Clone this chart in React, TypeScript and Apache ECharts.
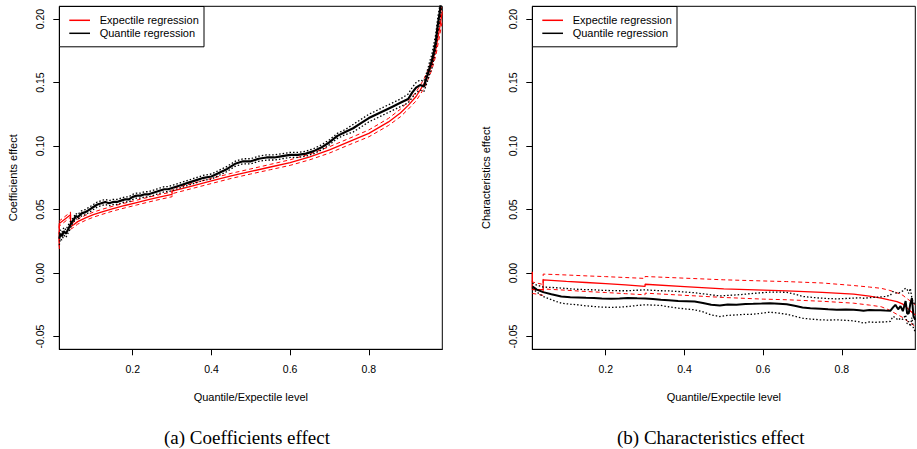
import React, { useEffect, useRef } from "react";
import * as echarts from "echarts";

// ---------- axis ticks ----------
const xTicks = [0.2, 0.4, 0.6, 0.8];
const yTicks = [-0.05, 0, 0.05, 0.1, 0.15, 0.2];
const xTitle = "Quantile/Expectile level";
const yTitleA = "Coefficients effect";
const yTitleB = "Characteristics effect";
const captionA = "(a) Coefficients effect";
const captionB = "(b) Characteristics effect";
const legendNames = ["Expectile regression", "Quantile regression"];

// ---------- panel (a): coefficients effect ----------
const qLevelsA = [
  0.0134, 0.016, 0.02, 0.025, 0.03, 0.035, 0.04, 0.045, 0.05, 0.055,
  0.06, 0.07, 0.08, 0.09, 0.1, 0.11, 0.12, 0.13, 0.14, 0.15,
  0.16, 0.17, 0.18, 0.19, 0.2, 0.21, 0.22, 0.23, 0.24, 0.25,
  0.26, 0.27, 0.28, 0.29, 0.3, 0.32, 0.34, 0.36, 0.38, 0.4,
  0.42, 0.44, 0.46, 0.48, 0.5, 0.52, 0.54, 0.56, 0.58, 0.6,
  0.62, 0.64, 0.66, 0.68, 0.7, 0.72, 0.74, 0.76, 0.78, 0.8,
  0.82, 0.84, 0.86, 0.88, 0.9, 0.91, 0.92, 0.93, 0.94, 0.95,
  0.955, 0.96, 0.965, 0.97, 0.975, 0.98, 0.985,
];
const quantileA = [
  0.027, 0.031, 0.029, 0.033, 0.031, 0.034, 0.037, 0.04, 0.042, 0.045,
  0.044, 0.047, 0.048, 0.05, 0.052, 0.054, 0.055, 0.056, 0.055, 0.056,
  0.056, 0.057, 0.058, 0.058, 0.06, 0.061, 0.061, 0.062, 0.062, 0.063,
  0.064, 0.065, 0.066, 0.066, 0.067, 0.069, 0.071, 0.073, 0.075, 0.076,
  0.079, 0.082, 0.086, 0.088, 0.088, 0.09, 0.091, 0.091, 0.092, 0.093,
  0.093, 0.094, 0.096, 0.099, 0.103, 0.108, 0.111, 0.114, 0.118, 0.122,
  0.125, 0.128, 0.131, 0.134, 0.137, 0.142, 0.146, 0.148, 0.147, 0.157,
  0.162, 0.167, 0.174, 0.182, 0.195, 0.205, 0.218,
];
const quantileUpA = [
  0.031, 0.034, 0.032, 0.036, 0.034, 0.037, 0.04, 0.042, 0.044, 0.047,
  0.046, 0.049, 0.05, 0.052, 0.054, 0.056, 0.057, 0.058, 0.057, 0.058,
  0.058, 0.059, 0.06, 0.06, 0.062, 0.063, 0.063, 0.064, 0.064, 0.065,
  0.066, 0.067, 0.068, 0.068, 0.069, 0.071, 0.073, 0.075, 0.077, 0.078,
  0.081, 0.084, 0.088, 0.09, 0.09, 0.092, 0.093, 0.093, 0.094, 0.095,
  0.095, 0.096, 0.098, 0.101, 0.105, 0.11, 0.113, 0.117, 0.121, 0.125,
  0.128, 0.131, 0.134, 0.137, 0.141, 0.146, 0.15, 0.152, 0.151, 0.161,
  0.167, 0.172, 0.18, 0.188, 0.201, 0.21, 0.222,
];
const quantileLoA = [
  0.022, 0.027, 0.026, 0.03, 0.028, 0.031, 0.034, 0.038, 0.04, 0.043,
  0.042, 0.045, 0.046, 0.048, 0.05, 0.052, 0.053, 0.054, 0.053, 0.054,
  0.054, 0.055, 0.056, 0.056, 0.058, 0.059, 0.059, 0.06, 0.06, 0.061,
  0.062, 0.063, 0.064, 0.064, 0.065, 0.067, 0.069, 0.071, 0.073, 0.074,
  0.077, 0.08, 0.084, 0.086, 0.086, 0.088, 0.089, 0.089, 0.09, 0.091,
  0.091, 0.092, 0.094, 0.097, 0.101, 0.106, 0.109, 0.111, 0.115, 0.119,
  0.122, 0.125, 0.128, 0.131, 0.134, 0.138, 0.142, 0.144, 0.143, 0.152,
  0.157, 0.161, 0.168, 0.176, 0.189, 0.198, 0.21,
];
const eLevelsA = [
  0.0134, 0.0134, 0.042, 0.042, 0.05, 0.06, 0.08, 0.1, 0.12, 0.15,
  0.18, 0.21, 0.24, 0.27, 0.3, 0.3, 0.35, 0.4, 0.45, 0.5,
  0.55, 0.6, 0.65, 0.7, 0.75, 0.8, 0.85, 0.88, 0.9, 0.92,
  0.94, 0.95, 0.96, 0.97, 0.98, 0.9866,
];
const expectileA = [
  0.021, 0.039, 0.046, 0.0365, 0.038, 0.0405, 0.0435, 0.046, 0.048, 0.0508,
  0.0532, 0.0555, 0.0578, 0.06, 0.062, 0.0645, 0.0685, 0.0725, 0.0765, 0.08,
  0.0835, 0.087, 0.0915, 0.097, 0.1035, 0.11, 0.119, 0.126, 0.132, 0.139,
  0.149, 0.156, 0.164, 0.176, 0.193, 0.206,
];
const expectileUpA = [
  0.024, 0.041, 0.048, 0.0385, 0.04, 0.0425, 0.0455, 0.048, 0.05, 0.0527,
  0.0551, 0.0574, 0.0597, 0.0619, 0.0639, 0.0665, 0.0705, 0.0745, 0.0785, 0.082,
  0.0856, 0.0892, 0.0938, 0.0995, 0.106, 0.1127, 0.1218, 0.129, 0.135, 0.1425,
  0.1527, 0.1598, 0.168, 0.181, 0.199, 0.213,
];
const expectileLoA = [
  0.019, 0.037, 0.044, 0.0345, 0.036, 0.0385, 0.0415, 0.044, 0.046, 0.0489,
  0.0513, 0.0536, 0.0559, 0.0581, 0.0601, 0.0625, 0.0665, 0.0705, 0.0745, 0.078,
  0.0814, 0.0848, 0.0892, 0.0945, 0.101, 0.1073, 0.1162, 0.123, 0.129, 0.1355,
  0.1453, 0.1522, 0.16, 0.171, 0.187, 0.199,
];

// ---------- panel (b): characteristics effect ----------
const qLevelsB = [
  0.0134, 0.025, 0.041, 0.062, 0.087, 0.11, 0.13, 0.15, 0.17, 0.19,
  0.214, 0.235, 0.256, 0.28, 0.3, 0.32, 0.34, 0.36, 0.384, 0.405,
  0.426, 0.447, 0.468, 0.49, 0.51, 0.532, 0.555, 0.575, 0.596, 0.617,
  0.64, 0.66, 0.68, 0.7, 0.72, 0.745, 0.765, 0.787, 0.81, 0.83,
  0.845, 0.855, 0.87, 0.885, 0.898, 0.91, 0.923, 0.93, 0.936, 0.943,
  0.949, 0.955, 0.962, 0.966, 0.97, 0.974, 0.978, 0.982, 0.9866,
];
const quantileB = [
  -0.0105, -0.013, -0.015, -0.0166, -0.0184, -0.019, -0.0192, -0.0195, -0.0197, -0.02,
  -0.0203, -0.0201, -0.0197, -0.0199, -0.02, -0.0205, -0.021, -0.0214, -0.0219, -0.0221,
  -0.0224, -0.0235, -0.025, -0.0255, -0.0247, -0.025, -0.0243, -0.0242, -0.024, -0.0237,
  -0.0241, -0.0245, -0.0258, -0.0271, -0.0276, -0.0281, -0.0285, -0.0289, -0.0286, -0.0288,
  -0.0292, -0.0297, -0.029, -0.0293, -0.0292, -0.0295, -0.0297, -0.027, -0.025, -0.0285,
  -0.026, -0.03, -0.022, -0.032, -0.0316, -0.024, -0.0197, -0.034, -0.0368,
];
const quantileUpB = [
  -0.0079, -0.0095, -0.011, -0.0113, -0.0118, -0.0124, -0.0128, -0.013, -0.0132, -0.0135,
  -0.0138, -0.0139, -0.0139, -0.0135, -0.0132, -0.0136, -0.0139, -0.014, -0.0145, -0.015,
  -0.0155, -0.0163, -0.0171, -0.018, -0.0176, -0.0172, -0.0166, -0.016, -0.0155, -0.015,
  -0.015, -0.0152, -0.0165, -0.0184, -0.019, -0.0197, -0.02, -0.0203, -0.02, -0.0197,
  -0.0195, -0.0198, -0.0194, -0.019, -0.0188, -0.0184, -0.0175, -0.0145, -0.0155, -0.016,
  -0.015, -0.014, -0.0118, -0.013, -0.016, -0.012, -0.02, -0.023, -0.025,
];
const quantileLoB = [
  -0.0118, -0.015, -0.0184, -0.021, -0.0237, -0.0245, -0.025, -0.0258, -0.0263, -0.0268,
  -0.027, -0.0268, -0.0263, -0.0255, -0.025, -0.0252, -0.0255, -0.0265, -0.0276, -0.0283,
  -0.0289, -0.0305, -0.0329, -0.0342, -0.0333, -0.0329, -0.0325, -0.0324, -0.0316, -0.0308,
  -0.0315, -0.0324, -0.034, -0.0355, -0.0362, -0.0368, -0.037, -0.0368, -0.0372, -0.0376,
  -0.0385, -0.0394, -0.0385, -0.0388, -0.0385, -0.0385, -0.038, -0.0342, -0.035, -0.037,
  -0.0355, -0.0365, -0.033, -0.04, -0.038, -0.042, -0.035, -0.044, -0.046,
];
const eLevelsB = [
  0.0134, 0.0134, 0.041, 0.041, 0.1, 0.15, 0.2, 0.25, 0.3, 0.3,
  0.4, 0.5, 0.6, 0.66, 0.75, 0.83, 0.87, 0.9, 0.92, 0.94,
  0.955, 0.965, 0.975, 0.9866,
];
const expectileB = [
  0.001, -0.013, -0.013, -0.0053, -0.0065, -0.0074, -0.0083, -0.0093, -0.0105, -0.0088,
  -0.0106, -0.0124, -0.0134, -0.014, -0.0152, -0.0166, -0.0181, -0.0197, -0.0211, -0.0224,
  -0.0245, -0.0272, -0.03, -0.033,
];
const expectileUpB = [
  -0.006, -0.007, -0.009, -0.0008, -0.0015, -0.0022, -0.0028, -0.0035, -0.0042, -0.0027,
  -0.004, -0.0053, -0.0062, -0.0067, -0.0078, -0.0098, -0.011, -0.012, -0.0135, -0.0155,
  -0.0175, -0.02, -0.0222, -0.025,
];
const expectileLoB = [
  -0.016, -0.0165, -0.0175, -0.0125, -0.0135, -0.0145, -0.0153, -0.0162, -0.0171, -0.0158,
  -0.0175, -0.0192, -0.0205, -0.021, -0.0222, -0.0237, -0.0252, -0.0265, -0.029, -0.0325,
  -0.035, -0.0375, -0.0395, -0.042,
];

const zip = (xs: number[], ys: number[]) => xs.map((x, i) => [x, ys[i]]);

const SANS = '"Liberation Sans", Arial, Helvetica, sans-serif';
const SERIF = '"Liberation Serif", "Times New Roman", serif';
const RED = "#ff0000";
const BLACK = "#000000";

const GRID_TOP = 6.3;
const GRID_H = 343;
const GRID_W = 383;
const GRID_LEFTS = [59.3, 532.3];

function lineSeries(name: string, idx: number, data: number[][], color: string, width: number, type: any, z: number) {
  return {
    type: "line",
    name,
    xAxisIndex: idx,
    yAxisIndex: idx,
    data,
    showSymbol: false,
    symbol: "none",
    clip: true,
    z,
    lineStyle: { color, width, type },
    itemStyle: { color },
    emphasis: { disabled: true },
  };
}

function legendGraphic(left: number) {
  return [
    { type: "rect", z: 100, shape: { x: left + 0.2, y: GRID_TOP + 0.2, width: 144.5, height: 40.3 }, style: { fill: "#fff", stroke: BLACK, lineWidth: 1 } },
    { type: "line", z: 101, shape: { x1: left + 10, y1: 20.3, x2: left + 30.7, y2: 20.3 }, style: { stroke: RED, lineWidth: 1.5 } },
    { type: "line", z: 101, shape: { x1: left + 10, y1: 33.3, x2: left + 30.7, y2: 33.3 }, style: { stroke: BLACK, lineWidth: 1.5 } },
    { type: "text", z: 101, x: left + 40.4, y: 20.3, style: { text: legendNames[0], fontSize: 11, fontFamily: SANS, fill: BLACK, verticalAlign: "middle", align: "left" } },
    { type: "text", z: 101, x: left + 40.4, y: 33.3, style: { text: legendNames[1], fontSize: 11, fontFamily: SANS, fill: BLACK, verticalAlign: "middle", align: "left" } },
  ];
}

export default function App() {
  const ref = useRef<HTMLDivElement>(null);
  useEffect(() => {
    const chart = echarts.init(ref.current!, null, { renderer: "svg" });
    const xAxes = [0, 1].map((i) => ({
      type: "value",
      gridIndex: i,
      min: 0.0134,
      max: 0.9866,
      axisLine: { show: true, onZero: false, lineStyle: { color: BLACK, width: 1 } },
      splitLine: { show: false },
      axisTick: { show: true, customValues: xTicks, length: 6, lineStyle: { color: BLACK, width: 1 } },
      axisLabel: {
        customValues: xTicks,
        formatter: (v: number) => v.toFixed(1),
        color: BLACK,
        fontSize: 10.5,
        fontFamily: SANS,
        margin: 14,
      },
    }));
    const yAxes = [0, 1].map((i) => ({
      type: "value",
      gridIndex: i,
      min: -0.06,
      max: 0.21,
      axisLine: { show: true, onZero: false, lineStyle: { color: BLACK, width: 1 } },
      splitLine: { show: false },
      axisTick: { show: true, customValues: yTicks, length: 6, lineStyle: { color: BLACK, width: 1 } },
      axisLabel: {
        customValues: yTicks,
        formatter: (v: number) => v.toFixed(2),
        rotate: 90,
        color: BLACK,
        fontSize: 10.5,
        fontFamily: SANS,
        margin: 14,
      },
    }));
    const dashed = [4, 3];
    const dotted = [1.5, 2];
    const series = [
      lineSeries("Expectile upper (a)", 0, zip(eLevelsA, expectileUpA), RED, 1, dashed, 2),
      lineSeries("Expectile lower (a)", 0, zip(eLevelsA, expectileLoA), RED, 1, dashed, 2),
      lineSeries(legendNames[0], 0, zip(eLevelsA, expectileA), RED, 1.3, "solid", 3),
      lineSeries("Quantile upper (a)", 0, zip(qLevelsA, quantileUpA), BLACK, 1.3, dotted, 4),
      lineSeries("Quantile lower (a)", 0, zip(qLevelsA, quantileLoA), BLACK, 1.3, dotted, 4),
      lineSeries(legendNames[1], 0, zip(qLevelsA, quantileA), BLACK, 2.2, "solid", 5),
      lineSeries("Expectile upper (b)", 1, zip(eLevelsB, expectileUpB), RED, 1, dashed, 2),
      lineSeries("Expectile lower (b)", 1, zip(eLevelsB, expectileLoB), RED, 1, dashed, 2),
      lineSeries(legendNames[0] + " ", 1, zip(eLevelsB, expectileB), RED, 1.3, "solid", 3),
      lineSeries("Quantile upper (b)", 1, zip(qLevelsB, quantileUpB), BLACK, 1.3, dotted, 4),
      lineSeries("Quantile lower (b)", 1, zip(qLevelsB, quantileLoB), BLACK, 1.3, dotted, 4),
      lineSeries(legendNames[1] + " ", 1, zip(qLevelsB, quantileB), BLACK, 2, "solid", 5),
    ];
    const graphics: any[] = [
      ...legendGraphic(GRID_LEFTS[0]),
      ...legendGraphic(GRID_LEFTS[1]),
      { type: "text", x: GRID_LEFTS[0] + GRID_W / 2, y: 396.7, style: { text: xTitle, fontSize: 11, fontFamily: SANS, fill: BLACK, align: "center", verticalAlign: "middle" } },
      { type: "text", x: GRID_LEFTS[1] + GRID_W / 2, y: 396.7, style: { text: xTitle, fontSize: 11, fontFamily: SANS, fill: BLACK, align: "center", verticalAlign: "middle" } },
      { type: "text", x: 13, y: GRID_TOP + GRID_H / 2, rotation: Math.PI / 2, style: { text: yTitleA, fontSize: 11, fontFamily: SANS, fill: BLACK, align: "center", verticalAlign: "middle" } },
      { type: "text", x: 486, y: GRID_TOP + GRID_H / 2, rotation: Math.PI / 2, style: { text: yTitleB, fontSize: 11, fontFamily: SANS, fill: BLACK, align: "center", verticalAlign: "middle" } },
      { type: "text", x: 247, y: 437.3, style: { text: captionA, fontSize: 19, fontFamily: SERIF, fill: BLACK, align: "center", verticalAlign: "middle" } },
      { type: "text", x: 710.7, y: 437.3, style: { text: captionB, fontSize: 19, fontFamily: SERIF, fill: BLACK, align: "center", verticalAlign: "middle" } },
    ];
    chart.setOption({
      animation: false,
      backgroundColor: "#ffffff",
      grid: GRID_LEFTS.map((l) => ({
        left: l,
        top: GRID_TOP,
        width: GRID_W,
        height: GRID_H,
        show: true,
        borderColor: BLACK,
        borderWidth: 1,
        backgroundColor: "transparent",
        containLabel: false,
      })),
      xAxis: xAxes,
      yAxis: yAxes,
      series,
      graphic: graphics,
    });
    return () => chart.dispose();
  }, []);
  return (
    <div
      ref={ref}
      style={{ position: "fixed", left: 0, top: 0, width: 917, height: 449, background: "#fff" }}
    />
  );
}
